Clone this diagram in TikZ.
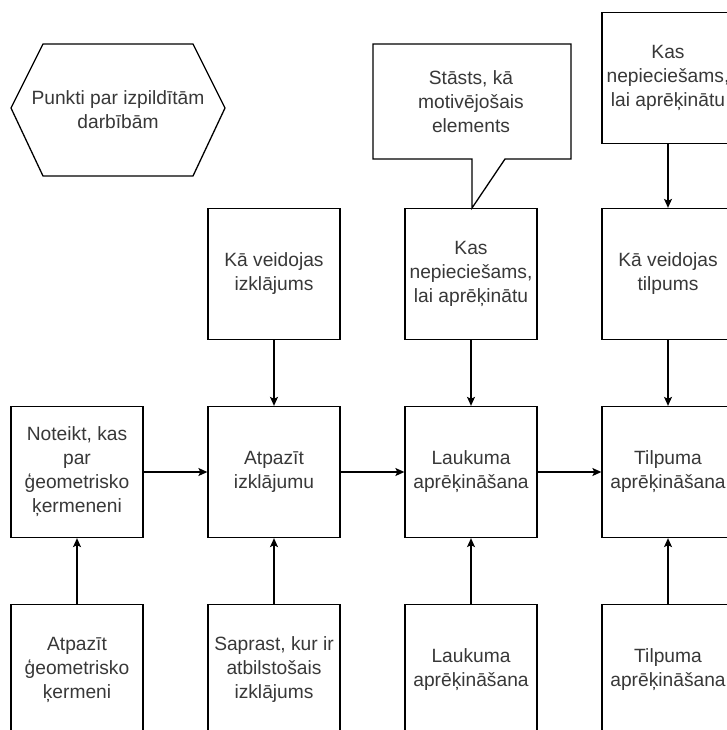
\documentclass[tikz,border=0pt]{standalone}
\usepackage{fontspec}
\setmainfont{Liberation Sans}
\usetikzlibrary{arrows.meta}
\begin{document}
\begin{tikzpicture}[x=1pt,y=-1pt,
  box/.style={draw=black,line width=1.3pt,minimum width=132pt,minimum height=131pt,inner sep=0pt,align=center,
    font=\fontsize{19.2}{24}\selectfont,text=black!78},
  conn/.style={draw=black,line width=1.3pt,-{Stealth[length=9pt,width=8pt,inset=2pt]}},
  txt/.style={align=center,font=\fontsize{19.2}{24}\selectfont,text=black!78,inner sep=0pt}]
\useasboundingbox (0,0) rectangle (726,730);
\fill[white] (0,0) rectangle (726,730);
% hexagon
\draw[line width=1.3pt] (11,108) -- (43,44) -- (193,44) -- (225,108) -- (193,176) -- (43,176) -- cycle;
\node[txt] (hex) at (118,110) {Punkti par izpildītām\\darbībām};
% callout
\draw[line width=1.3pt] (373,44) -- (571,44) -- (571,159) -- (505,159) -- (472,208) -- (472,159) -- (373,159) -- cycle;
\node[txt] (story) at (471,102) {Stāsts, kā\\motivējošais\\elements};
% boxes
\node[box] (t4) at (668,78) {Kas\\nepieciešams,\\lai aprēķinātu};
\node[box] (u2) at (274,274) {Kā veidojas\\izklājums};
\node[box] (u3) at (471,274) {Kas\\nepieciešams,\\lai aprēķinātu};
\node[box] (u4) at (668,274) {Kā veidojas\\tilpums};
\node[box] (m1) at (77,472) {Noteikt, kas\\par\\ģeometrisko\\ķermeneni};
\node[box] (m2) at (274,472) {Atpazīt\\izklājumu};
\node[box] (m3) at (471,472) {Laukuma\\aprēķināšana};
\node[box] (m4) at (668,472) {Tilpuma\\aprēķināšana};
\node[box] (b1) at (77,670) {Atpazīt\\ģeometrisko\\ķermeni};
\node[box] (b2) at (274,670) {Saprast, kur ir\\atbilstošais\\izklājums};
\node[box] (b3) at (471,670) {Laukuma\\aprēķināšana};
\node[box] (b4) at (668,670) {Tilpuma\\aprēķināšana};
% connectors
\draw[conn] (m1) -- (m2);
\draw[conn] (m2) -- (m3);
\draw[conn] (m3) -- (m4);
\draw[conn] (t4) -- (u4);
\draw[conn] (u2) -- (m2);
\draw[conn] (u3) -- (m3);
\draw[conn] (u4) -- (m4);
\draw[conn] (b1) -- (m1);
\draw[conn] (b2) -- (m2);
\draw[conn] (b3) -- (m3);
\draw[conn] (b4) -- (m4);
\end{tikzpicture}
\end{document}
